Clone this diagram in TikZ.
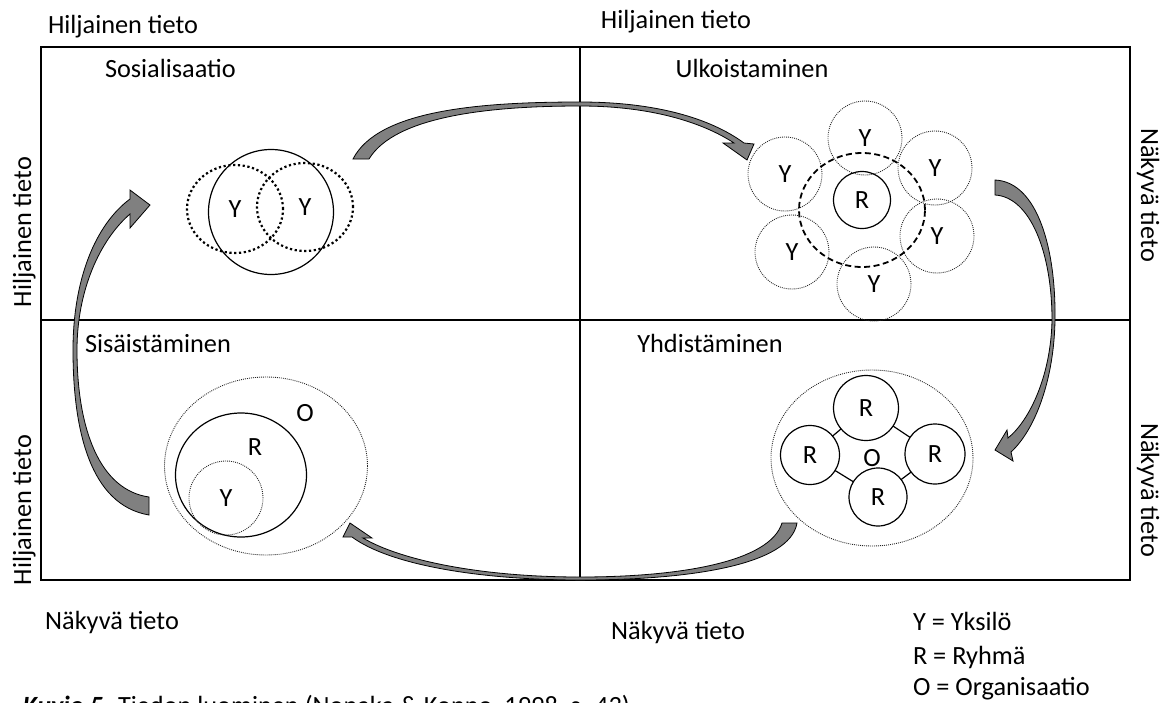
\documentclass[tikz,border=0pt]{standalone}
\usepackage{fontspec}
\setmainfont{Carlito}
\usetikzlibrary{shapes.geometric}
\begin{document}
\begin{tikzpicture}[x=1pt,y=-1pt,
  every node/.style={font=\fontsize{26.3pt}{31pt}\selectfont, inner sep=0pt, outer sep=0pt},
  lblw/.style={anchor=base west},
  lblc/.style={anchor=base},
  solidc/.style={circle, draw, line width=1.2pt, minimum size=#1},
  solide/.style={ellipse, draw, line width=1.2pt},
  thindot/.style={draw=black!85, line width=0.9pt, dash pattern=on 0.9pt off 1.1pt},
  thickdot/.style={draw, line width=2.2pt, dash pattern=on 2.2pt off 2.6pt},
  dashc/.style={draw, line width=1.8pt, dash pattern=on 6pt off 3.5pt},
  ycirc/.style={circle, thindot, minimum size=74pt},
  bigarrow/.style={fill={rgb,255:red,128;green,128;blue,128}, draw=black, line width=0.8pt, line join=miter}
]
\useasboundingbox (0,0) rectangle (1164,702);

% frame
\node[draw, line width=2pt, minimum width=1089pt, minimum height=533pt, anchor=north west] (frame) at (41,47) {};
\coordinate (topmid) at (580,47);
\coordinate (botmid) at (580,580);
\coordinate (leftmid) at (41,320);
\coordinate (rightmid) at (1130,320);
\draw[line width=2pt] (topmid) -- (botmid);
\draw[line width=2pt] (leftmid) -- (rightmid);

% outer labels
\node[lblw] (t1) at (48,33) {Hiljainen tieto};
\node[lblc] (t2) at (676,28) {Hiljainen tieto};
\node[lblc, rotate=90] (t3) at (31,232) {Hiljainen tieto};
\node[lblc, rotate=90] (t4) at (31,510) {Hiljainen tieto};
\node[lblc, rotate=-90] (t5) at (1141,195) {Näkyvä tieto};
\node[lblc, rotate=-90] (t6) at (1141,490) {Näkyvä tieto};
\node[lblc] (t7) at (112,629) {Näkyvä tieto};
\node[lblc] (t8) at (678,639) {Näkyvä tieto};

% quadrant titles
\node[lblw] (q1) at (105,77) {Sosialisaatio};
\node[lblc] (q2) at (752,77) {Ulkoistaminen};
\node[lblw] (q3) at (85,352) {Sisäistäminen};
\node[lblc] (q4) at (710,352) {Yhdistäminen};

% legend
\node[lblw] (l1) at (913,630) {Y = Yksilö};
\node[lblw] (l2) at (913,664) {R = Ryhmä};
\node[lblw] (l3) at (913,695) {O = Organisaatio};

% caption
\node[lblw] (cap) at (23,714) {\textbf{\textit{Kuvio 5.}} Tiedon luominen (Nonaka \& Konno, 1998, s. 43)};

% Sosialisaatio
\node[solidc=125pt] (sosC) at (271,212) {};
\node[ellipse, thickdot, minimum width=96pt, minimum height=88pt] (sosY1) at (235,209) {Y};
\node[ellipse, thickdot, minimum width=96pt, minimum height=88pt] (sosY2) at (305,207) {Y};

% Ulkoistaminen
\node[ellipse, dashc, minimum width=126pt, minimum height=114pt] (ulkD) at (862,210) {};
\node[solidc=57pt] (ulkR) at (862,200) {R};
\node[ycirc] (ulkY1) at (865,138) {Y};
\node[ycirc] (ulkY2) at (785,174) {Y};
\node[ycirc] (ulkY3) at (935,168) {Y};
\node[ycirc] (ulkY4) at (792,252) {Y};
\node[ycirc] (ulkY5) at (937,236) {Y};
\node[ycirc] (ulkY6) at (874,284) {Y};

% Sisaistaminen
\node[ellipse, thindot, minimum width=203pt, minimum height=178pt] (sisO) at (266,466) {};
\node[solide, minimum width=131pt, minimum height=124pt] (sisR) at (241,475) {};
\node[ycirc] (sisY) at (226,498) {Y};
\node (sisOl) at (305,413) {O};
\node (sisRl) at (255,447) {R};

% Yhdistaminen
\node[ellipse, thindot, minimum width=202pt, minimum height=176pt] (yhdO) at (872,458) {O};
\node[solidc=65pt] (yhdR1) at (866,408) {R};
\node[solidc=59pt] (yhdR2) at (810,455) {R};
\node[solidc=60pt] (yhdR3) at (935,454) {R};
\node[solidc=58pt] (yhdR4) at (878,497) {R};
\draw[line width=1.2pt] (yhdR1) -- (yhdR2);
\draw[line width=1.2pt] (yhdR1) -- (yhdR3);
\draw[line width=1.2pt] (yhdR2) -- (yhdR4);
\draw[line width=1.2pt] (yhdR3) -- (yhdR4);

% curved arrows
\draw[bigarrow] (353,159) .. controls (378,110) and (480,102) .. (580,102)
  .. controls (655,102) and (710,118) .. (744,143) -- (754,144) -- (747,160) -- (723,143) -- (734,143)
  .. controls (702,122) and (650,106) .. (580,106)
  .. controls (490,106) and (395,116) .. (369,159) -- cycle;

\draw[bigarrow] (995,180) .. controls (1038,182) and (1056,250) .. (1055,320)
  .. controls (1054,380) and (1035,430) .. (1011,452) -- (1013,461) -- (995,450) -- (1007,430) -- (1008,438)
  .. controls (1030,420) and (1051,375) .. (1052,320)
  .. controls (1052,252) and (1030,197) .. (995,195) -- cycle;

\draw[bigarrow] (797,523) .. controls (790,565) and (690,580) .. (580,580)
  .. controls (480,580) and (390,565) .. (352,537) -- (343,537) -- (350,523) -- (372,538) -- (363,538)
  .. controls (400,560) and (480,577) .. (580,577)
  .. controls (680,577) and (770,562) .. (782,523) -- cycle;

\draw[bigarrow] (149,515) .. controls (90,505) and (73,430) .. (73,350)
  .. controls (73,280) and (95,225) .. (130,199) -- (130,190) -- (150,205) -- (130,228) -- (130,214)
  .. controls (100,240) and (77,290) .. (77,350)
  .. controls (77,430) and (100,490) .. (149,497) -- cycle;
\end{tikzpicture}
\end{document}
